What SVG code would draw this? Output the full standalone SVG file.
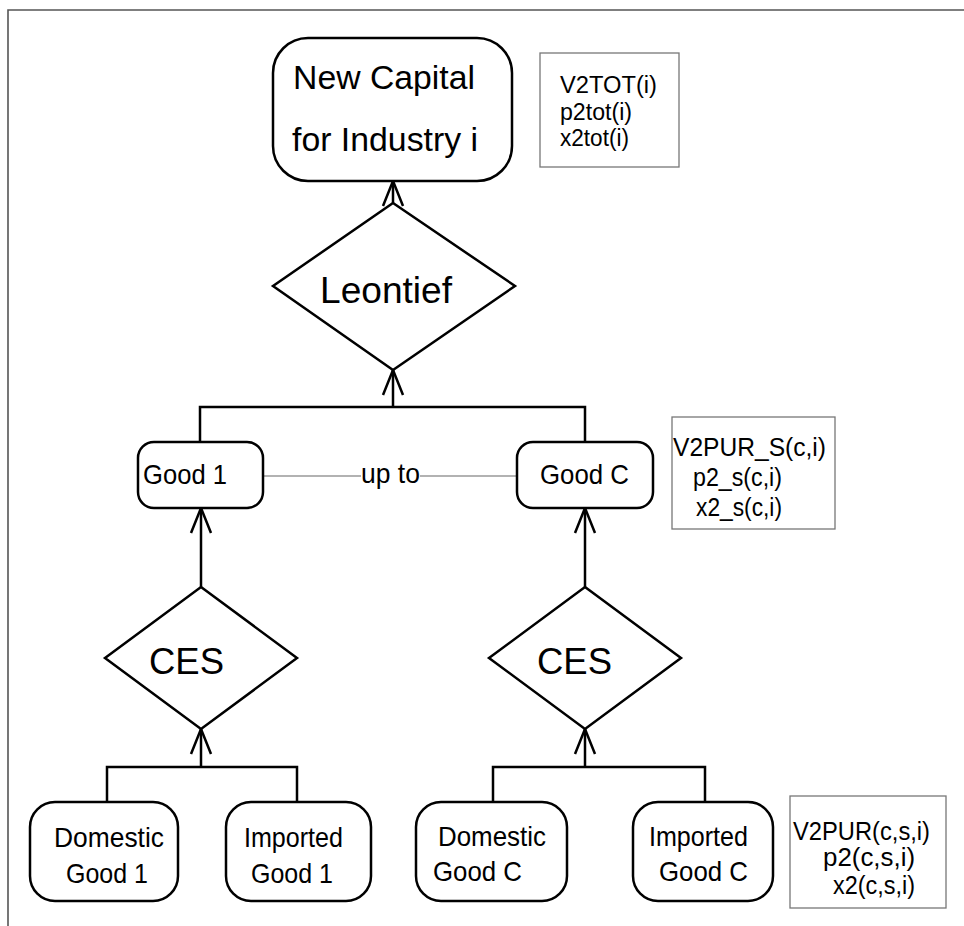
<svg xmlns="http://www.w3.org/2000/svg" width="964" height="926" viewBox="0 0 964 926">
<style>
.node{fill:#fff;stroke:#000;stroke-width:2.5}
.lab{fill:#fff;stroke:#777;stroke-width:1.3}
.t{font-family:"Liberation Sans",Arial,sans-serif;fill:#000}
.conn{fill:none;stroke:#000;stroke-width:2.5}
.thin{fill:none;stroke:#999;stroke-width:1.3}
</style>
<defs>
<marker id="arr" markerUnits="userSpaceOnUse" viewBox="-2 -2 30 24" markerWidth="30" markerHeight="24" refX="25" refY="10" orient="auto">
<path d="M0,0 L25,10 L0,20" fill="none" stroke="#000" stroke-width="2.5"/>
</marker>
</defs>
<rect width="964" height="926" fill="#fff"/>
<g id="frame" fill="none" stroke="#555" stroke-width="1.6">
<path d="M8,926 V10 H964"/>
</g>
<g id="connectors">
<path class="conn" d="M393,203 V181" marker-end="url(#arr)"/>
<path class="conn" d="M200,442 V407 H585 V442"/>
<path class="conn" d="M393,407 V370" marker-end="url(#arr)"/>
<path class="conn" d="M201,587 V508" marker-end="url(#arr)"/>
<path class="conn" d="M585,587 V508" marker-end="url(#arr)"/>
<path class="conn" d="M107,802 V767 H297 V802"/>
<path class="conn" d="M201,767 V729" marker-end="url(#arr)"/>
<path class="conn" d="M493,802 V767 H705 V802"/>
<path class="conn" d="M585,767 V729" marker-end="url(#arr)"/>
<path class="thin" d="M263,476 H361 M420,476 H517"/>
<text class="t" x="361" y="483" font-size="28" textLength="59" lengthAdjust="spacingAndGlyphs">up to</text>
</g>
<g id="n-capital">
<rect class="node" x="273" y="38" width="239" height="143" rx="35"/>
<text class="t" x="293" y="89" font-size="33" textLength="182" lengthAdjust="spacingAndGlyphs">New Capital</text>
<text class="t" x="292" y="151" font-size="33" textLength="186" lengthAdjust="spacingAndGlyphs">for Industry i</text>
</g>
<g id="lab-top">
<rect class="lab" x="540" y="53" width="139" height="114"/>
<text class="t" x="560" y="93" font-size="23" textLength="97" lengthAdjust="spacingAndGlyphs">V2TOT(i)</text>
<text class="t" x="560" y="120" font-size="23" textLength="72" lengthAdjust="spacingAndGlyphs">p2tot(i)</text>
<text class="t" x="560" y="146" font-size="23" textLength="69" lengthAdjust="spacingAndGlyphs">x2tot(i)</text>
</g>
<g id="n-leontief">
<polygon class="node" points="393,203 515,286 393,370 273,286"/>
<text class="t" x="320" y="303" font-size="37" textLength="132" lengthAdjust="spacingAndGlyphs">Leontief</text>
</g>
<g id="n-good1">
<rect class="node" x="138" y="442" width="125" height="66" rx="16"/>
<text class="t" x="143" y="484" font-size="28" textLength="84" lengthAdjust="spacingAndGlyphs">Good 1</text>
</g>
<g id="n-goodC">
<rect class="node" x="517" y="442" width="136" height="66" rx="16"/>
<text class="t" x="540" y="484" font-size="28" textLength="89" lengthAdjust="spacingAndGlyphs">Good C</text>
</g>
<g id="lab-mid">
<rect class="lab" x="672" y="417" width="163" height="112"/>
<text class="t" x="673" y="456" font-size="25" textLength="153" lengthAdjust="spacingAndGlyphs">V2PUR_S(c,i)</text>
<text class="t" x="693" y="486" font-size="25" textLength="89" lengthAdjust="spacingAndGlyphs">p2_s(c,i)</text>
<text class="t" x="696" y="516" font-size="25" textLength="86" lengthAdjust="spacingAndGlyphs">x2_s(c,i)</text>
</g>
<g id="n-ces1">
<polygon class="node" points="201,587 297,658 201,729 105,658"/>
<text class="t" x="149" y="674" font-size="36" textLength="75" lengthAdjust="spacingAndGlyphs">CES</text>
</g>
<g id="n-cesC">
<polygon class="node" points="585,587 681,658 585,729 489,658"/>
<text class="t" x="537" y="674" font-size="36" textLength="75" lengthAdjust="spacingAndGlyphs">CES</text>
</g>
<g id="n-dom1">
<rect class="node" x="30" y="802" width="148" height="99" rx="25"/>
<text class="t" x="54" y="847" font-size="28" textLength="110" lengthAdjust="spacingAndGlyphs">Domestic</text>
<text class="t" x="66" y="883" font-size="28" textLength="82" lengthAdjust="spacingAndGlyphs">Good 1</text>
</g>
<g id="n-imp1">
<rect class="node" x="226" y="802" width="145" height="99" rx="25"/>
<text class="t" x="244" y="847" font-size="28" textLength="99" lengthAdjust="spacingAndGlyphs">Imported</text>
<text class="t" x="251" y="883" font-size="28" textLength="82" lengthAdjust="spacingAndGlyphs">Good 1</text>
</g>
<g id="n-domC">
<rect class="node" x="416" y="802" width="151" height="99" rx="25"/>
<text class="t" x="438" y="846" font-size="28" textLength="108" lengthAdjust="spacingAndGlyphs">Domestic</text>
<text class="t" x="433" y="881" font-size="28" textLength="89" lengthAdjust="spacingAndGlyphs">Good C</text>
</g>
<g id="n-impC">
<rect class="node" x="633" y="802" width="140" height="99" rx="25"/>
<text class="t" x="649" y="846" font-size="28" textLength="99" lengthAdjust="spacingAndGlyphs">Imported</text>
<text class="t" x="659" y="881" font-size="28" textLength="89" lengthAdjust="spacingAndGlyphs">Good C</text>
</g>
<g id="lab-bot">
<rect class="lab" x="790" y="796" width="156" height="112"/>
<text class="t" x="793" y="840" font-size="25" textLength="137" lengthAdjust="spacingAndGlyphs">V2PUR(c,s,i)</text>
<text class="t" x="823" y="866" font-size="25" textLength="92" lengthAdjust="spacingAndGlyphs">p2(c,s,i)</text>
<text class="t" x="833" y="894" font-size="25" textLength="82" lengthAdjust="spacingAndGlyphs">x2(c,s,i)</text>
</g>
</svg>
